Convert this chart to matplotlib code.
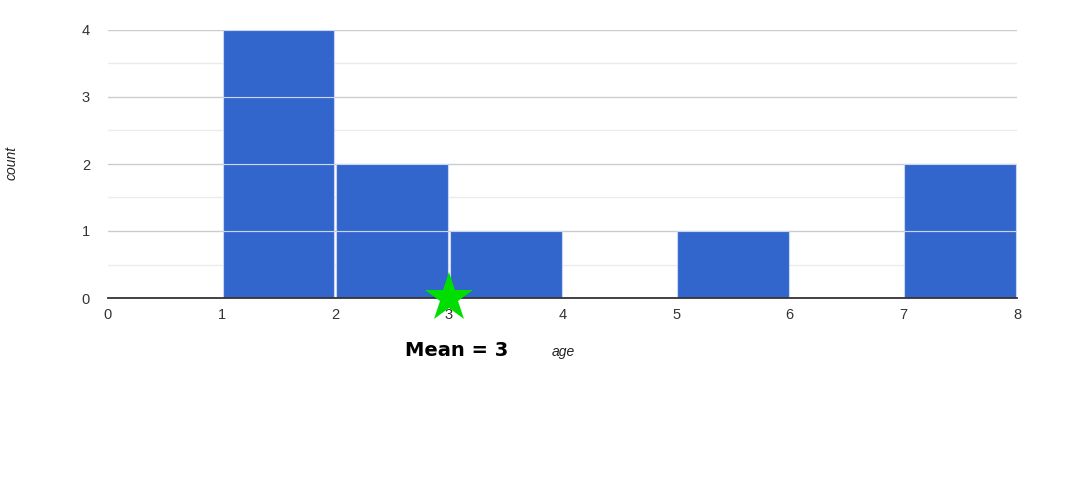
import matplotlib
matplotlib.use("Agg")
import matplotlib.pyplot as plt
from matplotlib.ticker import MultipleLocator

# histogram bins (left edges) and counts per bin
bin_left = [1, 2, 3, 4, 5, 6, 7]
counts = [4, 2, 1, 0, 1, 0, 2]
mean_age = 3
x_ticks = [0, 1, 2, 3, 4, 5, 6, 7, 8]
y_ticks = [0, 1, 2, 3, 4]

plt.rcParams['font.family'] = ['Liberation Sans', 'DejaVu Sans']

fig = plt.figure(figsize=(10.85, 5), dpi=100)
ax = fig.add_axes([108 / 1085, 202 / 500, 909 / 1085, 268 / 500])

# google-style histogram: each item is a stacked unit box
for left, c in zip(bin_left, counts):
    for k in range(c):
        ax.bar(left + 0.008, 1, width=0.984, bottom=k, align='edge',
               color='#3366cc', edgecolor='#c9d6f2', linewidth=0.8, zorder=2)

ax.plot([mean_age], [0], marker='*', color='#00dd00', markersize=37,
        markeredgewidth=0, clip_on=False, zorder=5)

ax.set_xlim(0, 8)
ax.set_ylim(0, 4)
ax.set_xticks(x_ticks)
ax.set_yticks(y_ticks)
ax.yaxis.set_minor_locator(MultipleLocator(0.5))
ax.grid(True, which='major', axis='y', color='#cccccc', linewidth=1, zorder=0)
ax.grid(True, which='minor', axis='y', color='#ebebeb', linewidth=1, zorder=0)
ax.set_axisbelow(True)

for s in ['top', 'right', 'left']:
    ax.spines[s].set_visible(False)
ax.spines['bottom'].set_color('#333333')
ax.spines['bottom'].set_linewidth(1.3)
ax.spines['bottom'].set_zorder(4)

ax.tick_params(axis='both', which='both', length=0, labelsize=10.5, colors='#333333')
ax.tick_params(axis='y', pad=13)
ax.tick_params(axis='x', pad=7)

fig.text(563 / 1085, 1 - 352 / 500, 'age', style='italic', fontsize=10,
         color='#222222', ha='center', va='center')
fig.text(12 / 1085, 1 - 163 / 500, 'count', style='italic', fontsize=10,
         color='#222222', ha='center', va='center', rotation=90)
fig.text(457 / 1085, 1 - 350 / 500, 'Mean = 3', fontweight='bold', fontsize=14,
         family=['DejaVu Sans'], color='black', ha='center', va='center')

fig.savefig('out.png', dpi=100)
